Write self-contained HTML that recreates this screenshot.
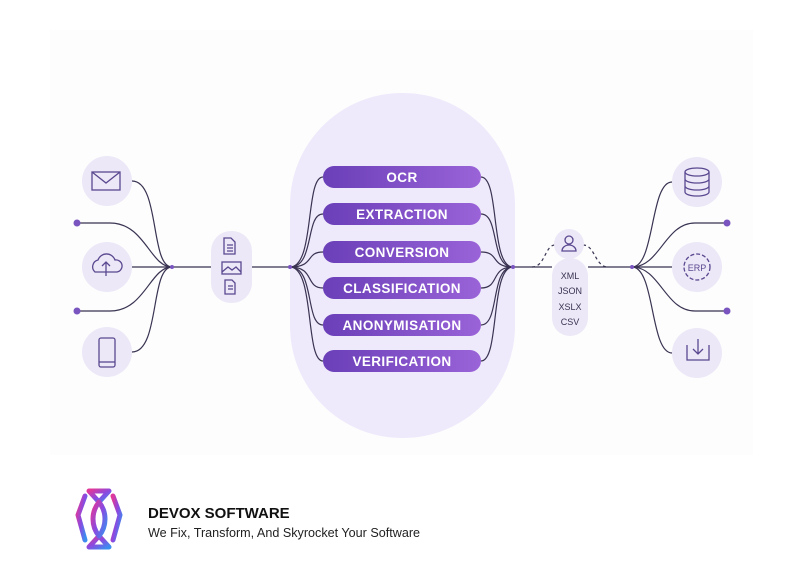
<!DOCTYPE html>
<html><head><meta charset="utf-8"><style>
html,body{margin:0;padding:0;background:#fff;}
body{width:803px;height:585px;position:relative;overflow:hidden;font-family:"Liberation Sans",sans-serif;}
</style></head><body>
<svg width="803" height="585" viewBox="0 0 803 585" xmlns="http://www.w3.org/2000/svg" style="position:absolute;left:0;top:0">
<defs>
<linearGradient id="pg" x1="0" x2="1" y1="0" y2="0"><stop offset="0" stop-color="#6a3fb8"/><stop offset="1" stop-color="#9a63d8"/></linearGradient>
<linearGradient id="lg" x1="0" x2="1" y1="0" y2="1"><stop offset="0" stop-color="#e0389a"/><stop offset="0.5" stop-color="#8a4ae0"/><stop offset="1" stop-color="#3a8ef0"/></linearGradient>
</defs>
<rect x="50" y="30" width="703" height="425" fill="#fdfdfd"/>
<rect x="290" y="93" width="225" height="345" rx="112" fill="#efeafb"/>
<g fill="none" stroke="#3a3352" stroke-width="1.2">
<path d="M132 181 C160 181 150 267 172 267"/>
<path d="M77 223 L110 223 C145 223 150 267 172 267"/>
<path d="M132 267 L172 267"/>
<path d="M77 311 L110 311 C145 311 150 267 172 267"/>
<path d="M132 352 C160 352 150 267 172 267"/>
<path d="M172 267 L211 267 M252 267 L290 267"/>
<path d="M290 267 C315 267 305 177 323 177"/>
<path d="M290 267 C315 267 305 214 323 214"/>
<path d="M290 267 C315 267 305 252 323 252"/>
<path d="M290 267 C315 267 305 288 323 288"/>
<path d="M290 267 C315 267 305 325 323 325"/>
<path d="M290 267 C315 267 305 361 323 361"/>
<path d="M481 177 C500 177 490 267 513 267"/>
<path d="M481 214 C500 214 490 267 513 267"/>
<path d="M481 252 C500 252 490 267 513 267"/>
<path d="M481 288 C500 288 490 267 513 267"/>
<path d="M481 325 C500 325 490 267 513 267"/>
<path d="M481 361 C500 361 490 267 513 267"/>
<path d="M513 267 L552 267 M588 267 L632 267"/>
<path d="M632 267 C655 267 650 182 672 182"/>
<path d="M632 267 C660 267 665 223 695 223 L727 223"/>
<path d="M632 267 L672 267"/>
<path d="M632 267 C660 267 665 311 695 311 L727 311"/>
<path d="M632 267 C655 267 650 353 672 353"/>
<path d="M532 267 C545 267 545 245 555 245 M583 245 C595 245 595 267 608 267" stroke-dasharray="3 3"/>
</g>
<g fill="#7a55c0"><circle cx="77" cy="223" r="3.5"/><circle cx="77" cy="311" r="3.5"/><circle cx="727" cy="223" r="3.5"/><circle cx="727" cy="311" r="3.5"/><circle cx="172" cy="267" r="2"/><circle cx="290" cy="267" r="2"/><circle cx="513" cy="267" r="2"/><circle cx="632" cy="267" r="2"/></g>
<g fill="#ece8f7"><circle cx="107" cy="181" r="25"/><circle cx="107" cy="267" r="25"/><circle cx="107" cy="352" r="25"/><circle cx="697" cy="182" r="25"/><circle cx="697" cy="267" r="25"/><circle cx="697" cy="353" r="25"/><circle cx="569" cy="244" r="15"/>
<rect x="211" y="231" width="41" height="72" rx="20"/><rect x="552" y="258" width="36" height="78" rx="18"/></g>
<g fill="none" stroke="#5a4890" stroke-width="1.3">
<rect x="92" y="172" width="28" height="18"/><path d="M92 172 L106 183 L120 172"/>
<path d="M95 272 a7 7 0 0 1 3 -12 a9 9 0 0 1 17 0 a6 6 0 0 1 2 12 Z M106 276 V262 M102 266 L106 262 L110 266"/>
<rect x="99" y="338" width="16" height="29" rx="2"/><path d="M99 362 H115"/>
<path d="M224 238 h7 l4 4 v12 h-11z M227 245h6 M227 248h6 M227 251h6"/>
<rect x="222" y="262" width="19" height="12"/><path d="M222 272 l6 -5 4 3 4 -3 5 5"/>
<path d="M225 280 h7 l3 3 v11 h-10z M228 286h5 M228 289h5"/>
<ellipse cx="697" cy="172" rx="12" ry="4"/><path d="M685 172 v20 M709 172 v20 M685 179 a12 4 0 0 0 24 0 M685 186 a12 4 0 0 0 24 0 M685 192 a12 4 0 0 0 24 0"/>
<circle cx="697" cy="267" r="13" stroke-dasharray="4 2"/>
<path d="M687 345 v15 h22 v-15 M698 339 v15 M693 349 l5 5 5 -5"/>
<circle cx="569" cy="240" r="4"/><path d="M562 251 a7 6 0 0 1 14 0 z"/>
</g>
<text x="697" y="271" font-size="9" fill="#5a4890" text-anchor="middle">ERP</text>
<g font-size="9" fill="#3a3352" text-anchor="middle"><text x="570" y="279">XML</text><text x="570" y="294">JSON</text><text x="570" y="310">XSLX</text><text x="570" y="325">CSV</text></g>
<g fill="url(#pg)">
<rect x="323" y="166" width="158" height="22" rx="11"/><rect x="323" y="203" width="158" height="22" rx="11"/><rect x="323" y="241" width="158" height="22" rx="11"/><rect x="323" y="277" width="158" height="22" rx="11"/><rect x="323" y="314" width="158" height="22" rx="11"/><rect x="323" y="350" width="158" height="22" rx="11"/>
</g>
<g font-size="13.5" font-weight="bold" fill="#fff" text-anchor="middle" letter-spacing="0.4">
<text x="402" y="182">OCR</text><text x="402" y="219">EXTRACTION</text><text x="402" y="257">CONVERSION</text><text x="402" y="293">CLASSIFICATION</text><text x="402" y="330">ANONYMISATION</text><text x="402" y="366">VERIFICATION</text>
</g>
<g fill="none" stroke="url(#lg)" stroke-width="5" stroke-linejoin="round" stroke-linecap="round">
<path d="M85 496 L78 515 L85 540"/><path d="M113 496 L120 515 L113 540"/>
<path d="M89 491 H109 L99 502 Z"/><path d="M89 547 H109 L99 536 Z"/>
<path d="M99 502 C91 512 91 526 99 536 C107 526 107 512 99 502"/>
</g>
<text x="148" y="518" font-size="15" font-weight="bold" fill="#111">DEVOX SOFTWARE</text>
<text x="148" y="537" font-size="12.6" fill="#222">We Fix, Transform, And Skyrocket Your Software</text>
</svg>
</body></html>
